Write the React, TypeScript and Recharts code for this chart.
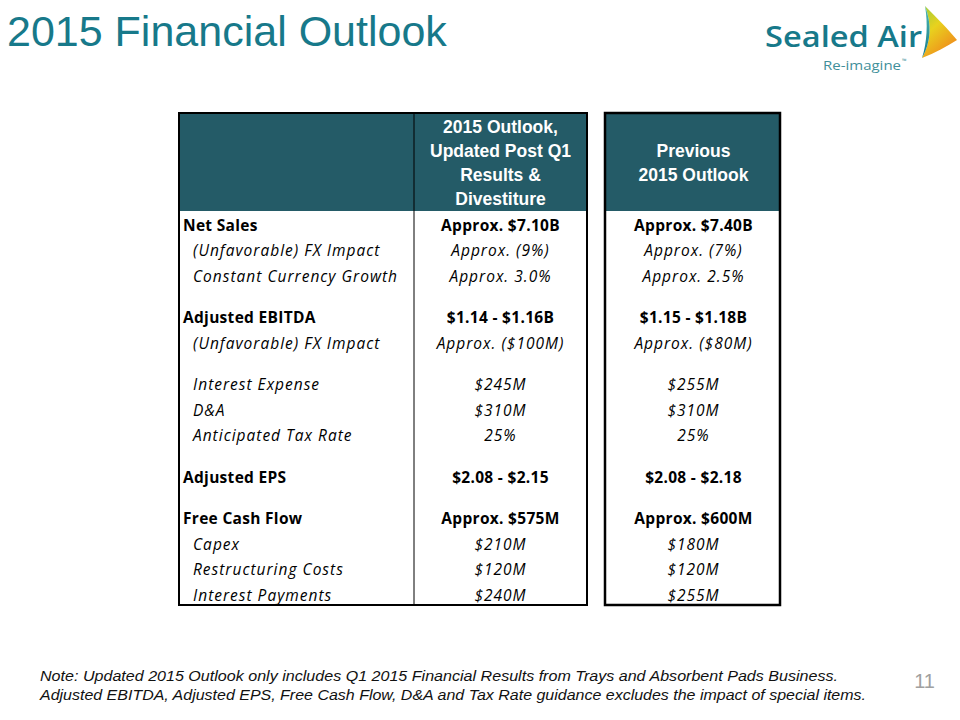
import React from "react";
import { ScatterChart, Scatter, XAxis, YAxis, ReferenceArea } from "recharts";

// ---- data ----
const rowLabels = [
  "Net Sales",
  "(Unfavorable) FX Impact",
  "Constant Currency Growth",
  "",
  "Adjusted EBITDA",
  "(Unfavorable) FX Impact",
  "",
  "Interest Expense",
  "D&A",
  "Anticipated Tax Rate",
  "",
  "Adjusted EPS",
  "",
  "Free Cash Flow",
  "Capex",
  "Restructuring Costs",
  "Interest Payments",
];
const outlookValues = [
  "Approx. $7.10B",
  "Approx. (9%)",
  "Approx. 3.0%",
  "",
  "$1.14 - $1.16B",
  "Approx. ($100M)",
  "",
  "$245M",
  "$310M",
  "25%",
  "",
  "$2.08 - $2.15",
  "",
  "Approx. $575M",
  "$210M",
  "$120M",
  "$240M",
];
const previousValues = [
  "Approx. $7.40B",
  "Approx. (7%)",
  "Approx. 2.5%",
  "",
  "$1.15 - $1.18B",
  "Approx. ($80M)",
  "",
  "$255M",
  "$310M",
  "25%",
  "",
  "$2.08 - $2.18",
  "",
  "Approx. $600M",
  "$180M",
  "$120M",
  "$255M",
];
const rowKinds = [
  "bold", "italic", "italic", "spacer",
  "bold", "italic", "spacer",
  "italic", "italic", "italic", "spacer",
  "bold", "spacer",
  "bold", "italic", "italic", "italic",
];
const outlookHeader = ["2015 Outlook,", "Updated Post Q1", "Results &", "Divestiture"];
const previousHeader = ["Previous", "2015 Outlook"];
const noteLines = [
  "Note:  Updated 2015 Outlook only includes Q1 2015 Financial Results from Trays and Absorbent Pads Business.",
  "Adjusted EBITDA, Adjusted EPS, Free Cash Flow,  D&A and Tax Rate guidance excludes the impact of special items.",
];
const titleText = "2015 Financial Outlook";
const pageNumber = "11";
const logoName = "Sealed Air";
const logoTagline = "Re-imagine";

// ---- layout (styling constants) ----
const W = 960;
const H = 720;
const FIRST_ROW_Y = 225;
const ROW_STEP = 25.5;
const SPACER_STEP = 16;
const TABLE_TOP = 113;
const HEADER_BOTTOM = 211;
const TABLE_BOTTOM = 605;
const L_LEFT = 179;
const L_DIV = 414;
const L_RIGHT = 587;
const R_LEFT = 605;
const R_RIGHT = 780;
const HEADER_FILL = "#245b67";
const BODY_FONT = "'Open Sans', Lato, sans-serif";
const HEAD_FONT = "'Liberation Sans', Arial, sans-serif";
const NOTE_WIDTHS = [798, 826];

const rows = rowKinds
  .map((k, i) => ({ kind: k, label: rowLabels[i], outlook: outlookValues[i], previous: previousValues[i] }))
  .filter((r) => r.kind !== "spacer");
const rowsY: number[] = [];
{
  let y = FIRST_ROW_Y;
  rowKinds.forEach((k, i) => {
    if (i === 0) {
      rowsY.push(y);
      return;
    }
    if (k === "spacer") {
      y += SPACER_STEP;
      return;
    }
    y += ROW_STEP;
    rowsY.push(y);
  });
}

const labelData = rows.map((r, j) => ({
  x: r.kind === "bold" ? 183 : 193,
  y: rowsY[j],
  text: r.label,
  kind: r.kind,
  anchor: "start",
}));
const outlookData = rows.map((r, j) => ({
  x: (L_DIV + L_RIGHT) / 2,
  y: rowsY[j],
  text: r.outlook,
  kind: r.kind,
  anchor: "middle",
}));
const previousData = rows.map((r, j) => ({
  x: (R_LEFT + R_RIGHT) / 2 + 1,
  y: rowsY[j],
  text: r.previous,
  kind: r.kind,
  anchor: "middle",
}));
const headerData = [
  ...outlookHeader.map((t, i) => ({ x: (L_DIV + L_RIGHT) / 2, y: 127 + i * 24, text: t })),
  ...previousHeader.map((t, i) => ({ x: (R_LEFT + R_RIGHT) / 2 + 1, y: 151 + i * 24, text: t })),
];

const CellText = (props: any) => {
  const { cx, cy, payload } = props;
  if (cx == null || cy == null) return null;
  const italic = payload.kind === "italic";
  return (
    <text
      x={cx}
      y={cy}
      dy="0.36em"
      textAnchor={payload.anchor}
      fontFamily={BODY_FONT}
      fontSize={15.5}
      letterSpacing={italic ? 1.0 : 0.3}
      fontWeight={payload.kind === "bold" ? 700 : 400}
      fontStyle={italic ? "italic" : "normal"}
      fill="#000"
    >
      {payload.text}
    </text>
  );
};

const HeaderText = (props: any) => {
  const { cx, cy, payload } = props;
  if (cx == null || cy == null) return null;
  return (
    <text x={cx} y={cy} dy="0.36em" textAnchor="middle" fontFamily={HEAD_FONT} fontSize={17.5} fontWeight={700} fill="#fff">
      {payload.text}
    </text>
  );
};

const Logo = () => (
  <svg width={220} height={80} style={{ position: "absolute", left: 740, top: 0 }}>
    <defs>
      <linearGradient id="sail1" x1="0" y1="0" x2="0.6" y2="1">
        <stop offset="0" stopColor="#9ccc3c" />
        <stop offset="0.45" stopColor="#e8d21e" />
        <stop offset="1" stopColor="#f08a1c" />
      </linearGradient>
      <linearGradient id="sail2" x1="0" y1="0" x2="0" y2="1">
        <stop offset="0" stopColor="#4db8b0" />
        <stop offset="1" stopColor="#157a8c" />
      </linearGradient>
    </defs>
    <path d="M185 6 C197 18 209 30 217 40 C207 46 195 53 182 58 C191 42 192 24 185 6 Z" fill="url(#sail1)" />
    <path d="M185 6 C192 24 191 42 182 58 C187 42 188 24 185 6 Z" fill="url(#sail2)" />
    <text
      x={25}
      y={47}
      fontFamily="'Open Sans', sans-serif"
      fontWeight={600}
      fontSize={29}
      fill="#17798a"
      textLength={157}
      lengthAdjust="spacingAndGlyphs"
    >
      {logoName}
    </text>
    <text
      x={83}
      y={70}
      fontFamily="'Open Sans', sans-serif"
      fontSize={13}
      fill="#3f8f9a"
      textLength={78}
      lengthAdjust="spacingAndGlyphs"
    >
      {logoTagline}
    </text>
    <text x={162} y={63} fontFamily="'Open Sans', sans-serif" fontSize={6} fill="#3f8f9a">
      ™
    </text>
  </svg>
);

export default function App() {
  return (
    <div style={{ position: "absolute", left: 0, top: 0, width: W, height: H, background: "#fff", overflow: "hidden" }}>
      <ScatterChart width={W} height={H} margin={{ top: 0, right: 0, bottom: 0, left: 0 }}>
        <XAxis type="number" dataKey="x" domain={[0, W]} hide allowDataOverflow />
        <YAxis type="number" dataKey="y" domain={[0, H]} reversed hide allowDataOverflow />
        <ReferenceArea x1={L_LEFT} x2={L_RIGHT} y1={TABLE_TOP} y2={HEADER_BOTTOM} fill={HEADER_FILL} fillOpacity={1} stroke="none" />
        <ReferenceArea x1={R_LEFT} x2={R_RIGHT} y1={TABLE_TOP} y2={HEADER_BOTTOM} fill={HEADER_FILL} fillOpacity={1} stroke="none" />
        <ReferenceArea x1={L_DIV} x2={L_RIGHT} y1={TABLE_TOP} y2={TABLE_BOTTOM} fill="none" stroke="#000" strokeWidth={1} />
        <ReferenceArea x1={L_LEFT} x2={L_RIGHT} y1={TABLE_TOP} y2={TABLE_BOTTOM} fill="none" stroke="#000" strokeWidth={2} />
        <ReferenceArea x1={R_LEFT} x2={R_RIGHT} y1={TABLE_TOP} y2={TABLE_BOTTOM} fill="none" stroke="#000" strokeWidth={2.5} />
        <Scatter data={headerData} shape={HeaderText} isAnimationActive={false} />
        <Scatter data={labelData} shape={CellText} isAnimationActive={false} />
        <Scatter data={outlookData} shape={CellText} isAnimationActive={false} />
        <Scatter data={previousData} shape={CellText} isAnimationActive={false} />
      </ScatterChart>
      <svg width={W} height={H} style={{ position: "absolute", left: 0, top: 0, pointerEvents: "none" }}>
        <text x={7} y={46} fontFamily={HEAD_FONT} fontSize={43} fill="#17798a">
          {titleText}
        </text>
        {noteLines.map((t, i) => (
          <text
            key={i}
            x={40}
            y={681 + i * 19}
            fontFamily={HEAD_FONT}
            fontStyle="italic"
            fontSize={15.5}
            fill="#111"
            textLength={NOTE_WIDTHS[i]}
            lengthAdjust="spacingAndGlyphs"
          >
            {t}
          </text>
        ))}
        <text x={935} y={688} textAnchor="end" fontFamily={HEAD_FONT} fontSize={20} fill="#a0a0a0">
          {pageNumber}
        </text>
      </svg>
      <Logo />
    </div>
  );
}
